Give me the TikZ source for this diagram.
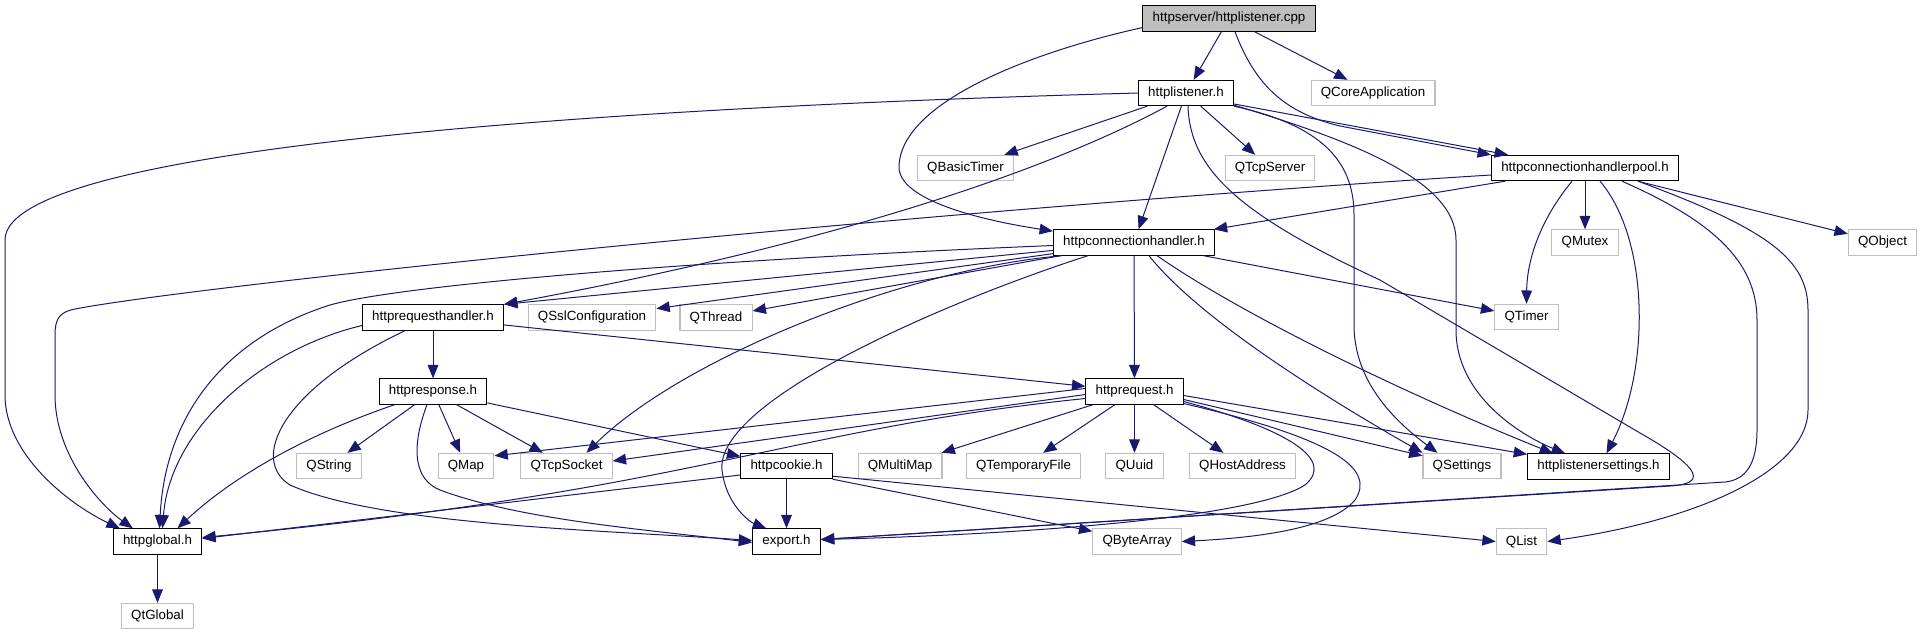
\documentclass[tikz,border=0pt]{standalone}
\usepackage{fontspec}
\setmainfont{Liberation Sans}
\usetikzlibrary{arrows.meta, calc}
\definecolor{edgeblue}{HTML}{191970}
\definecolor{grey75}{HTML}{BFBFBF}
\tikzset{
  docfile/.style={rectangle, draw=black, fill=white, line width=0.8pt,
                  inner xsep=7.3pt, inner ysep=0pt, minimum height=19pt,
                  font=\fontsize{10}{12}\selectfont},
  sysfile/.style={docfile, draw=grey75},
  rootfile/.style={docfile, fill=grey75},
  arrow/.style={-{Triangle[length=10pt, width=8pt]}, draw=edgeblue, fill=none, line width=0.75pt},
}
\begin{document}
\begin{tikzpicture}[x=0.75pt, y=-0.75pt]
  \useasboundingbox (0,0) rectangle (1923,635);

  % Top rows
  \node[rootfile] (root) at (1229,18.5) {httpserver/httplistener.cpp};
  \node[docfile] (lis) at (1186,93) {httplistener.h};
  \node[sysfile] (qcore) at (1373,93) {QCoreApplication};
  \node[sysfile] (qbt) at (965.5,168) {QBasicTimer};
  \node[sysfile] (qtcps) at (1270,168) {QTcpServer};
  \node[docfile] (pool) at (1585,168) {httpconnectionhandlerpool.h};
  \node[docfile] (conn) at (1134,242.5) {httpconnectionhandler.h};
  \node[sysfile] (qmutex) at (1585,242.5) {QMutex};
  \node[sysfile] (qobject) at (1882.5,242.5) {QObject};

  % Middle rows
  \node[docfile] (reqh) at (433,317.5) {httprequesthandler.h};
  \node[sysfile] (qssl) at (592,317.5) {QSslConfiguration};
  \node[sysfile] (qthread) at (716,317.5) {QThread};
  \node[sysfile] (qtimer) at (1526.5,317) {QTimer};
  \node[docfile] (resp) at (433,391.5) {httpresponse.h};
  \node[docfile] (req) at (1134.5,391.5) {httprequest.h};
  \node[sysfile] (qstring) at (329,466) {QString};
  \node[sysfile] (qmap) at (466,466) {QMap};
  \node[sysfile] (qtcpsock) at (566.5,466) {QTcpSocket};
  \node[docfile] (cookie) at (786.5,466) {httpcookie.h};
  \node[sysfile] (qmultimap) at (900,466) {QMultiMap};
  \node[sysfile] (qtemp) at (1023.5,466) {QTemporaryFile};
  \node[sysfile] (quuid) at (1134.5,466) {QUuid};
  \node[sysfile] (qhost) at (1242.5,466) {QHostAddress};
  \node[sysfile] (qsettings) at (1462,466) {QSettings};
  \node[docfile] (lset) at (1598.5,466.5) {httplistenersettings.h};

  % Bottom rows
  \node[docfile] (glob) at (157.5,541.5) {httpglobal.h};
  \node[docfile] (export) at (786.5,541.5) {export.h};
  \node[sysfile] (qba) at (1137,541.5) {QByteArray};
  \node[sysfile] (qlist) at (1521.5,541.5) {QList};
  \node[sysfile] (qtglobal) at (157.5,616) {QtGlobal};

  % httplistener.cpp
  \draw[arrow] (root) -- (lis);
  \draw[arrow] (root) -- (qcore);
  \draw[arrow] (root.186) .. controls (1040,50) and (900,100) .. (899,167)
    .. controls (899,200) and (980,220) .. (conn.172);
  \draw[arrow] ($(root.south)+(6,0)$) .. controls (1255,85) and (1285,113) .. (1340,126)
    -- (pool.north west);

  % httplistener.h
  \draw[arrow] (lis.west) .. controls (700,105) and (5,140) .. (5,240) -- (5,395)
    .. controls (5,455) and (70,505) .. ($(glob.north west)+(7,0)$);
  \draw[arrow] (lis) -- (qbt);
  \draw[arrow] ($(lis.south)+(-19,0)$) .. controls (1030,180) and (800,250) .. (reqh.north east);
  \draw[arrow] (lis) -- (conn);
  \draw[arrow] (lis) -- (qtcps);
  \draw[arrow] ($(lis.east)+(0,11)$) -- ($(pool.north west)+(17,0)$);
  \draw[arrow] (lis.south east) .. controls (1320,125) and (1354,160) .. (1354,215) -- (1354,325)
    .. controls (1354,385) and (1400,425) .. ($(qsettings.north west)+(15,0)$);
  \draw[arrow] ($(lis.south east)+(0,-1)$) .. controls (1350,140) and (1456,180) .. (1456,240)
    -- (1456,330) .. controls (1456,395) and (1520,435) .. ($(lset.north west)+(38,0)$);
  \draw[arrow] ($(lis.south)+(2,0)$) .. controls (1190,170) and (1240,215) .. (1380,280)
    -- (1640,433) .. controls (1705,470) and (1705,484) .. (1670,486) -- ($(export.east)+(0,-2)$);

  % httpconnectionhandlerpool.h
  \draw[arrow] ($(pool.west)+(0,7)$) .. controls (900,212) and (200,285) .. (75,309)
    .. controls (60,312) and (55,318) .. (55,335) -- (55,395)
    .. controls (55,455) and (100,505) .. ($(glob.north west)+(20,0)$);
  \draw[arrow] (pool) -- (conn);
  \draw[arrow] ($(pool.south)+(-13,0)$) .. controls (1540,220) and (1527,260) .. (qtimer.north);
  \draw[arrow] (pool) -- (qmutex);
  \draw[arrow] ($(pool.south)+(15,0)$) .. controls (1650,240) and (1650,370) .. ($(lset.north)+(8,0)$);
  \draw[arrow] ($(pool.south)+(37,0)$) .. controls (1710,220) and (1757,260) .. (1757,320) -- (1757,430)
    .. controls (1757,465) and (1745,480) .. (1725,482) -- ($(export.east)+(0,-2)$);
  \draw[arrow] ($(pool.south)+(53,0)$) .. controls (1770,230) and (1808,260) .. (1808,310) -- (1808,410)
    .. controls (1808,470) and (1700,520) .. (qlist.east);
  \draw[arrow] (pool) -- (qobject);

  % httpconnectionhandler.h
  \draw[arrow] ($(conn.west)+(0,3)$) .. controls (700,260) and (400,285) .. (330,305)
    .. controls (220,340) and (165,420) .. ($(glob.north)+(2,0)$);
  \draw[arrow] (conn) -- (reqh.north east);
  \draw[arrow] (conn) -- (qssl);
  \draw[arrow] (conn) -- (qthread);
  \draw[arrow] ($(conn.south west)+(9,0)$) .. controls (900,270) and (680,360) .. ($(qtcpsock.north)+(20,0)$);
  \draw[arrow] ($(conn.south west)+(35,0)$) .. controls (950,300) and (715,400) .. (722,470)
    .. controls (726,505) and (750,522) .. ($(export.north west)+(14,0)$);
  \draw[arrow] (conn) -- (req);
  \draw[arrow] ($(conn.south)+(15,0)$) .. controls (1200,320) and (1330,400) .. (qsettings.north west);
  \draw[arrow] ($(conn.south)+(23,0)$) .. controls (1250,320) and (1420,400) .. ($(lset.north west)+(26,0)$);
  \draw[arrow] (conn) -- (qtimer);

  % httprequesthandler.h
  \draw[arrow] ($(reqh.west)+(0,8)$) .. controls (260,350) and (170,430) .. ($(glob.north)+(5,0)$);
  \draw[arrow] (reqh) -- (resp);
  \draw[arrow] ($(reqh.south)+(-28,0)$) .. controls (280,390) and (250,460) .. (290,485)
    .. controls (380,525) and (600,530) .. ($(export.west)+(0,-1)$);
  \draw[arrow] (reqh) -- (req);

  % httpresponse.h
  \draw[arrow] ($(resp.south west)+(16,0)$) .. controls (320,430) and (240,470) .. ($(glob.north)+(20,0)$);
  \draw[arrow] (resp) -- (qstring);
  \draw[arrow] (resp) -- (qmap);
  \draw[arrow] (resp) -- (qtcpsock);
  \draw[arrow] (resp) -- (cookie);
  \draw[arrow] ($(resp.south)+(-6,0)$) .. controls (410,450) and (415,480) .. (440,490)
    .. controls (520,520) and (650,530) .. ($(export.west)+(0,1)$);

  % httprequest.h
  \draw[arrow] ($(req.west)+(0,-3)$) -- ($(qmap.north east)+(0,3)$);
  \draw[arrow] ($(req.west)+(0,3)$) -- ($(qtcpsock.east)+(0,-5)$);
  \draw[arrow] ($(req.west)+(0,7)$) .. controls (780,430) and (700,490) .. ($(glob.east)+(0,-4)$);
  \draw[arrow] (req) -- (qmultimap);
  \draw[arrow] (req) -- (qtemp);
  \draw[arrow] (req) -- (quuid);
  \draw[arrow] (req) -- (qhost);
  \draw[arrow] ($(req.east)+(0,10)$) .. controls (1290,430) and (1335,460) .. (1305,485)
    .. controls (1250,520) and (1000,535) .. ($(export.east)+(0,-2)$);
  \draw[arrow] ($(req.east)+(0,12)$) .. controls (1340,440) and (1375,470) .. (1355,500)
    .. controls (1330,530) and (1250,538) .. (qba.east);
  \draw[arrow] ($(req.east)+(0,8)$) -- ($(qsettings.north west)+(0,3)$);
  \draw[arrow] ($(req.east)+(0,4)$) -- ($(lset.north west)+(0,1)$);

  % httpcookie.h
  \draw[arrow] ($(cookie.west)+(0,9)$) -- ($(glob.east)+(0,-3)$);
  \draw[arrow] (cookie) -- (export);
  \draw[arrow] (cookie.south east) -- ($(qba.north west)+(0,3)$);
  \draw[arrow] ($(cookie.south east)+(0,-3)$) -- (qlist.west);

  % httpglobal.h
  \draw[arrow] (glob) -- (qtglobal);

\end{tikzpicture}
\end{document}
